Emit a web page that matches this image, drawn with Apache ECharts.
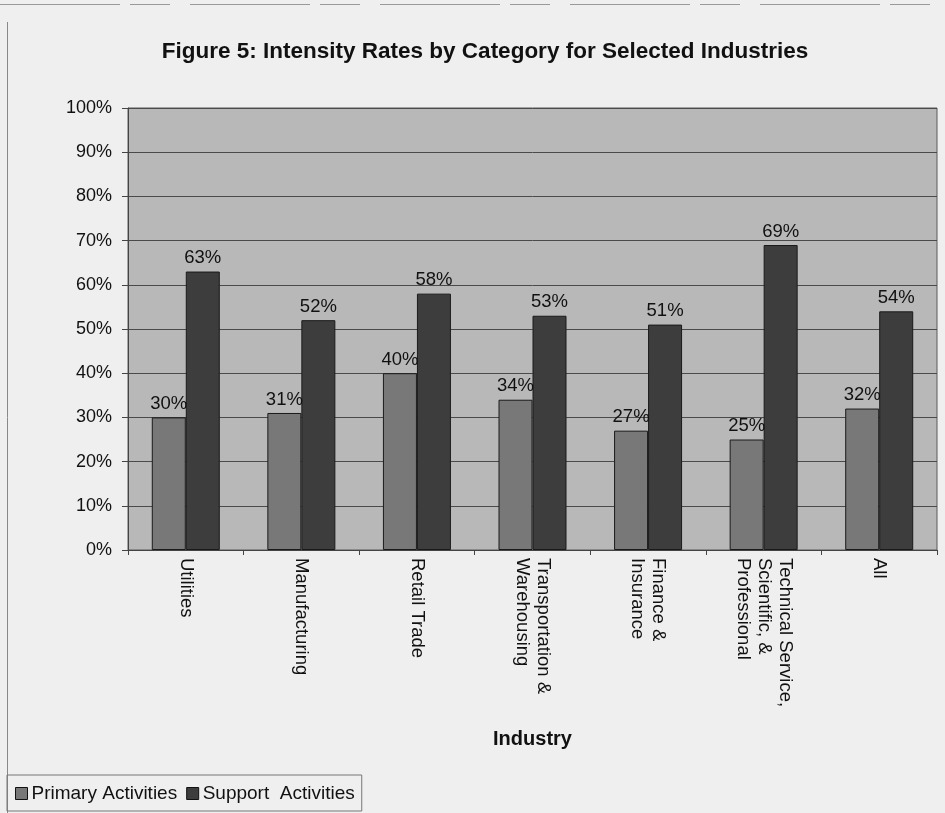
<!DOCTYPE html>
<html>
<head>
<meta charset="utf-8">
<style>
  html, body { margin: 0; padding: 0; background: #efefef; }
  #chart { width: 945px; height: 813px; }
</style>
<script src="https://cdn.jsdelivr.net/npm/echarts@6/dist/echarts.min.js"></script>
</head>
<body>
<div id="chart"></div>
<script>
// Industries shown along the category axis
const industries = [
  'Utilities',
  'Manufacturing',
  'Retail Trade',
  'Transportation &\nWarehousing',
  'Finance &\nInsurance',
  'Technical Service,\nScientific, &\nProfessional',
  'All'
];

// Intensity rates (percent) per industry
const primaryActivities = [30, 31, 40, 34, 27, 25, 32];
const supportActivities = [63, 52, 58, 53, 51, 69, 54];

const seriesNames = ['Primary Activities', 'Support  Activities'];
const titleText = 'Figure 5: Intensity Rates by Category for Selected Industries';
const axisTitle = 'Industry';

const FONT = 'Liberation Sans, Arial, sans-serif';

const chart = echarts.init(document.getElementById('chart'), null, { renderer: 'canvas' });

const valueLabel = {
  show: true,
  position: 'top',
  distance: 4,
  formatter: p => p.value + '%',
  color: '#111',
  fontFamily: FONT,
  fontSize: 18.5
};

chart.setOption({
  backgroundColor: '#efefef',
  animation: false,
  title: {
    text: titleText,
    left: 480,
    top: 35,
    textAlign: 'center',
    textStyle: { fontFamily: FONT, fontWeight: 'bold', fontSize: 22.5, color: '#111' }
  },
  legend: {
    left: 7,
    top: 775,
    itemWidth: 12,
    itemHeight: 12,
    itemGap: 9,
    padding: [9, 7, 8, 8],
    borderColor: '#777',
    borderWidth: 1,
    icon: 'rect',
    textStyle: { fontFamily: FONT, fontSize: 19, color: '#111', padding: [0, 0, 0, -1] },
    data: seriesNames.map(n => ({ name: n, itemStyle: { borderColor: '#111', borderWidth: 1 } }))
  },
  grid: {
    left: 128,
    right: 8,
    top: 108,
    bottom: 263,
    show: true,
    backgroundColor: '#b8b8b8',
    borderColor: '#5a5a5a',
    borderWidth: 1
  },
  xAxis: {
    type: 'category',
    data: industries,
    name: axisTitle,
    nameLocation: 'middle',
    nameGap: 179,
    nameTextStyle: { fontFamily: FONT, fontWeight: 'bold', fontSize: 20, color: '#111' },
    axisLine: { lineStyle: { color: '#444', width: 1 } },
    axisTick: { show: true, length: 5, lineStyle: { color: '#444' } },
    axisLabel: {
      rotate: -90,
      interval: 0,
      margin: 8,
      fontFamily: FONT,
      fontSize: 18.5,
      lineHeight: 21,
      color: '#111'
    }
  },
  yAxis: {
    type: 'value',
    min: 0,
    max: 100,
    interval: 10,
    axisLine: { show: true, lineStyle: { color: '#444', width: 1 } },
    axisTick: { show: true, length: 6, inside: false, lineStyle: { color: '#444' } },
    axisLabel: {
      formatter: '{value}%',
      margin: 16,
      fontFamily: FONT,
      fontSize: 18,
      color: '#111'
    },
    splitLine: { show: true, lineStyle: { color: '#4a4a4a', width: 1 } }
  },
  series: [
    {
      name: seriesNames[0],
      type: 'bar',
      data: primaryActivities,
      barWidth: 34,
      barGap: '0%',
      itemStyle: { color: '#787878', borderColor: '#1a1a1a', borderWidth: 1 },
      label: valueLabel
    },
    {
      name: seriesNames[1],
      type: 'bar',
      data: supportActivities,
      barWidth: 34,
      barGap: '0%',
      itemStyle: { color: '#3d3d3d', borderColor: '#1a1a1a', borderWidth: 1 },
      label: valueLabel
    }
  ],
  graphic: [
    {
      type: 'line',
      shape: { x1: 7.5, y1: 22, x2: 7.5, y2: 813 },
      style: { stroke: '#888', lineWidth: 1 },
      silent: true
    },
    {
      type: 'line',
      shape: { x1: 0, y1: 4.5, x2: 945, y2: 4.5 },
      style: { stroke: '#999', lineWidth: 1, lineDash: [120, 10, 40, 20] },
      silent: true
    }
  ]
});
</script>
</body>
</html>
